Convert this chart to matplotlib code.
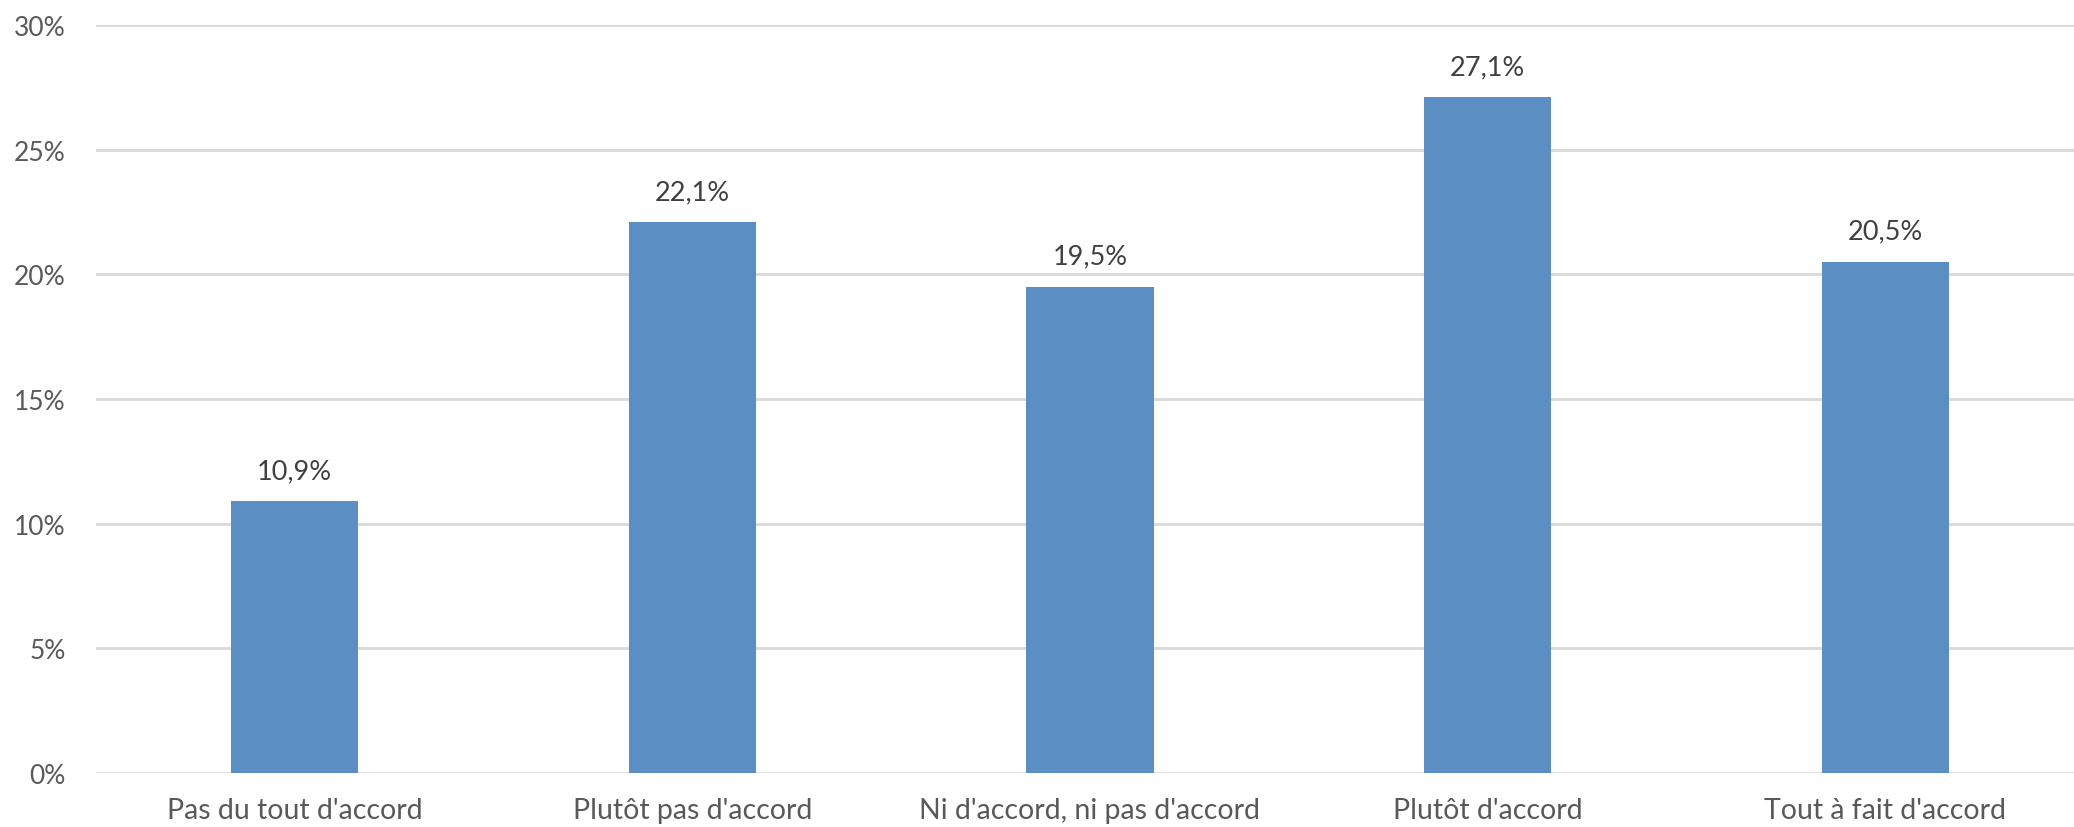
import matplotlib.pyplot as plt
import matplotlib
import numpy as np

matplotlib.rc('font', family='Lato', size=18)

categories = ["Pas du tout d'accord", "Plutôt pas d'accord", "Ni d'accord, ni pas d'accord",
              "Plutôt d'accord", "Tout à fait d'accord"]
values = [10.9, 22.1, 19.5, 27.1, 20.5]
yticks = [0, 5, 10, 15, 20, 25, 30]

fig = plt.figure(figsize=(20.74, 8.28), dpi=100)
ax = fig.add_axes([96 / 2074, 1 - 774 / 828, (2074 - 96) / 2074, (774 - 26) / 828])

x = np.arange(len(categories))
bars = ax.bar(x, values, width=0.32, color='#5B8EC2', zorder=3)

for xi, v in zip(x, values):
    ax.annotate("{:.1f}%".format(v).replace('.', ','), (xi, v), xytext=(0, 13),
                textcoords='offset points', ha='center', va='bottom',
                color='#404040', fontsize=19.5)

ax.set_ylim(0, 30)
ax.set_xlim(-0.5, 4.475)
ax.set_yticks(yticks)
ax.set_yticklabels(["{}%".format(t) for t in yticks])
ax.set_xticks(x)
ax.set_xticklabels(categories, fontsize=20.5)
ax.grid(axis='y', color='#D9D9D9', linewidth=2, zorder=0)
for s in ax.spines.values():
    s.set_visible(False)
ax.tick_params(axis='both', length=0, colors='#595959')
ax.tick_params(axis='y', labelsize=19, pad=22)
ax.tick_params(axis='x', pad=17)

fig.savefig("out.png", dpi=100)
